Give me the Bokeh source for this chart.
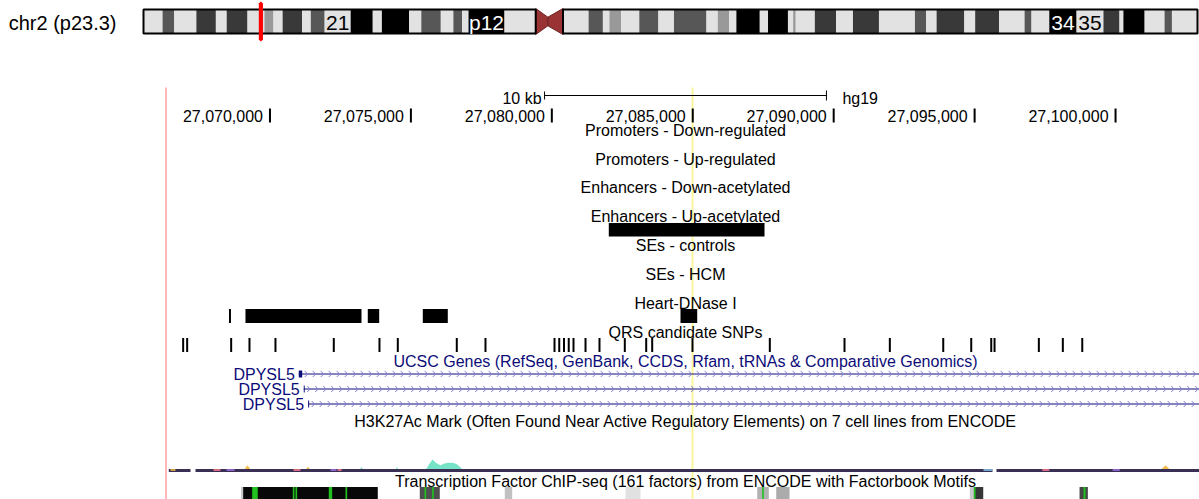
import numpy as np
from bokeh.plotting import figure
from bokeh.models import Range1d
from bokeh.core.properties import value
from bokeh.embed import file_html
from bokeh.resources import INLINE

# ---------------- chromosome ideogram: hg19 chr2 cytobands (Mb) ----------------
chrom_label = "chr2 (p23.3)"
chrom_length_mb = 243.199373
band_names = ["p25.3", "p25.2", "p25.1", "p24.3", "p24.2", "p24.1", "p23.3", "p23.2", "p23.1",
              "p22.3", "p22.2", "p22.1", "p21", "p16.3", "p16.2", "p16.1", "p15", "p14", "p13.3",
              "p13.2", "p13.1", "p12", "p11.2", "p11.1", "q11.1", "q11.2", "q12.1", "q12.2",
              "q12.3", "q13", "q14.1", "q14.2", "q14.3", "q21.1", "q21.2", "q21.3", "q22.1",
              "q22.2", "q22.3", "q23.1", "q23.2", "q23.3", "q24.1", "q24.2", "q24.3", "q31.1",
              "q31.2", "q31.3", "q32.1", "q32.2", "q32.3", "q33.1", "q33.2", "q33.3", "q34",
              "q35", "q36.1", "q36.2", "q36.3", "q37.1", "q37.2", "q37.3"]
band_starts = [0.0, 4.4, 7.1, 12.2, 16.7, 19.2, 24.0, 27.9, 30.0, 32.1, 36.6, 38.6, 41.8, 47.8,
               52.9, 55.0, 61.3, 64.1, 68.6, 71.5, 73.5, 75.0, 83.3, 90.5, 93.3, 96.8, 102.7,
               106.0, 107.5, 110.2, 114.4, 118.8, 122.4, 129.9, 132.5, 135.1, 136.8, 142.2,
               144.1, 148.7, 149.9, 150.5, 154.9, 159.8, 163.7, 169.7, 178.0, 180.6, 183.0,
               189.4, 191.9, 197.4, 203.3, 204.9, 209.0, 215.3, 221.5, 225.2, 226.1, 231.0,
               235.6, 237.3]
band_ends = band_starts[1:] + [chrom_length_mb]
band_stains = ["gneg", "gpos50", "gneg", "gpos75", "gneg", "gpos75", "gneg", "gpos25", "gneg",
               "gpos75", "gneg", "gpos50", "gneg", "gpos100", "gneg", "gpos100", "gneg", "gpos50",
               "gneg", "gpos50", "gneg", "gpos100", "gneg", "acen", "acen", "gneg", "gpos50",
               "gneg", "gpos25", "gneg", "gpos50", "gneg", "gpos50", "gneg", "gpos25", "gneg",
               "gpos100", "gneg", "gpos100", "gneg", "gpos25", "gneg", "gpos75", "gneg", "gpos75",
               "gneg", "gpos50", "gneg", "gpos75", "gneg", "gpos75", "gneg", "gpos50", "gneg",
               "gpos100", "gneg", "gpos75", "gneg", "gpos100", "gneg", "gpos50", "gneg"]
band_short_labels = {"p21": "21", "p12": "p12", "q34": "34", "q35": "35"}

# ---------------- browser window ----------------
assembly = "hg19"
view_start = 27066400
view_end = 27103085
ruler_ticks = [27070000, 27075000, 27080000, 27085000, 27090000, 27095000, 27100000]
scale_bar_bp = 10000
scale_bar_label = "10 kb"
highlight_start = 27084956
highlight_end = 27085026

track_titles = ["Promoters - Down-regulated", "Promoters - Up-regulated",
                "Enhancers - Down-acetylated", "Enhancers - Up-acetylated",
                "SEs - controls", "SEs - HCM", "Heart-DNase I", "QRS candidate SNPs"]

enh_up_starts = [27082021]
enh_up_ends = [27087546]

dnase_starts = [27068546, 27069131, 27073470, 27075422, 27084565]
dnase_ends = [27068616, 27073247, 27073875, 27076309, 27085158]

snp_positions = [27066920, 27067062, 27068623, 27069273, 27070195, 27072264, 27073885,
                 27074535, 27076628, 27077646, 27080095, 27080263, 27080432, 27080600,
                 27080769, 27081195, 27081691, 27082589, 27083348, 27083561, 27084991,
                 27087734, 27090384, 27091992, 27093887, 27094880, 27095590, 27095707,
                 27097279, 27098130, 27098819]

gene_track_title = "UCSC Genes (RefSeq, GenBank, CCDS, Rfam, tRNAs & Comparative Genomics)"
tx_names = ["DPYSL5", "DPYSL5", "DPYSL5"]
tx_starts = [27071022, 27071199, 27071355]
tx_ends = [27173730, 27173730, 27173730]
first_exon_ends = [27071143, 27071233, 27071390]

h3k_title = ("H3K27Ac Mark (Often Found Near Active Regulatory Elements) "
             "on 7 cell lines from ENCODE")
# low-level overlaid signal present across the window
h3k_cover_starts = [27066410, 27067358, 27095776]
h3k_cover_ends = [27067181, 27095634, 27103085]
# short stretches where one cell line dominates the overlay colour
h3k_speck_starts = [27066471, 27067997, 27068458, 27070835, 27072148, 27072396, 27095315,
                    27097400, 27099900]
h3k_speck_ends = [27066648, 27068245, 27068742, 27071083, 27072360, 27072538, 27095634,
                  27097650, 27100150]
h3k_speck_lines = ["H1-hESC", "GM12878", "NHEK", "GM12878", "NHEK", "GM12878", "HUVEC",
                   "GM12878", "NHEK"]
# HSMM signal (teal)
hsmm_pos = [27073105, 27073247, 27073388, 27074382, 27074506, 27074630,
            27075482, 27075624, 27075766, 27075908, 27076050, 27076192, 27076334,
            27076475, 27076617, 27076759, 27076901]
hsmm_val = [0, 12, 0, 0, 11, 0,
            0, 17, 31, 22, 17, 21, 23, 23, 20, 12, 0]
# H1-hESC signal (orange)
h1_pos = [27069024, 27069202, 27069379, 27071189, 27071348, 27071508,
          27101526, 27101774, 27102023]
h1_val = [0, 17, 0, 0, 13, 0, 0, 17, 0]
cell_line_colors = {"GM12878": "#ff7a8a", "H1-hESC": "#f3bb45", "HSMM": "#6fe2c3",
                    "HUVEC": "#86c8f0", "NHEK": "#a070e0"}

tf_title = "Transcription Factor ChIP-seq (161 factors) from ENCODE with Factorbook Motifs"
tf_starts = [27068971, 27069049, 27075315, 27078331, 27082614, 27087287, 27087961,
             27094830, 27094973, 27098723]
tf_ends = [27069049, 27073825, 27076025, 27078594, 27083146, 27087698, 27088433,
           27094973, 27095306, 27099017]
tf_scores = [215, 1000, 710, 250, 120, 310, 340, 215, 810, 750]
motif_starts = [27069368, 27070809, 27070905, 27072086, 27072679, 27075482, 27075755,
                27087464, 27094973, 27098864]
motif_ends = [27069567, 27070869, 27070965, 27072207, 27072739, 27075542, 27075812,
              27087521, 27095033, 27098936]

# ---------------- layout (pixels) ----------------
W, H = 1199, 499
TRACK_X0_PX = 168          # column where view_start is drawn
TRACK_W_PX = 1034          # width of the track area
IDEO_X0_PX, IDEO_X1_PX = 143, 1197

bpp = (view_end - view_start) / TRACK_W_PX
x_lo = view_start - TRACK_X0_PX * bpp
x_hi = x_lo + W * bpp
mb_per_px = chrom_length_mb / (IDEO_X1_PX - IDEO_X0_PX)
c_lo = -IDEO_X0_PX * mb_per_px
c_hi = c_lo + W * mb_per_px

# text rows are given as the vertical centre of the capitals
Y_IDEO_TOP, Y_IDEO_BOT = 9, 33
Y_TRACKS_TOP = 87
Y_SCALE = 95
Y_SCALE_TEXT = 98
Y_RULER_TEXT = 115
TITLE_ROWS = [129.5, 158.5, 187.0, 216.0, 245.0, 274.0, 303.0, 332.0]
FEAT_ROWS = [136, 165, 193.5, 222.5, 251.5, 280.5, 308.5, 337.5]
FEAT_H = 14
Y_GENE_TITLE = 360.5
GENE_ROWS = [373.5, 388.5, 403.5]
Y_H3K_TITLE = 420.5
Y_H3K_BASE = 471.5
H3K_PX_PER_UNIT = 0.4
Y_TF_TITLE = 480.5
Y_TF_TOP = 486.5

FONT = value("Liberation Sans")
NAVY = "#0c0c78"
mid_x = (view_start + view_end) / 2

p = figure(width=W, height=H, x_range=Range1d(x_lo, x_hi), y_range=Range1d(H, 0),
           output_backend="svg", toolbar_location=None, min_border=0,
           x_axis_location=None, y_axis_location=None,
           outline_line_color=None, background_fill_color="white",
           border_fill_color="white")
p.grid.visible = False
p.extra_x_ranges = {"chrom": Range1d(c_lo, c_hi)}

# ---------------- ideogram ----------------
stain_color = {"gneg": "#e2e2e2", "gpos25": "#999999", "gpos50": "#575757",
               "gpos75": "#393939", "gpos100": "#000000"}
norm = [i for i, s in enumerate(band_stains) if s != "acen"]
p.quad(left=[band_starts[i] for i in norm], right=[band_ends[i] for i in norm],
       top=Y_IDEO_TOP, bottom=Y_IDEO_BOT,
       fill_color=[stain_color[band_stains[i]] for i in norm], line_color=None,
       x_range_name="chrom")

acen = [i for i, s in enumerate(band_stains) if s == "acen"]
cen_lo = band_starts[acen[0]]
cen_mid = band_ends[acen[0]]
cen_hi = band_ends[acen[-1]]
waist = (Y_IDEO_BOT - Y_IDEO_TOP) * 0.18
ymid = (Y_IDEO_TOP + Y_IDEO_BOT) / 2
p.patches(xs=[[cen_lo, cen_mid, cen_mid, cen_lo], [cen_mid, cen_hi, cen_hi, cen_mid]],
          ys=[[Y_IDEO_TOP - 1, ymid - waist, ymid + waist, Y_IDEO_BOT + 1],
              [ymid - waist, Y_IDEO_TOP - 1, Y_IDEO_BOT + 1, ymid + waist]],
          fill_color="#9a3434", line_color="#6e2222", line_width=1, x_range_name="chrom")

# arm outlines
p.quad(left=[0, cen_hi], right=[cen_lo, chrom_length_mb], top=Y_IDEO_TOP, bottom=Y_IDEO_BOT,
       fill_color=None, line_color="black", line_width=2, x_range_name="chrom")

lab_idx = [i for i, n in enumerate(band_names) if n in band_short_labels]
p.text(x=[(band_starts[i] + band_ends[i]) / 2 for i in lab_idx], y=22,
       text=[band_short_labels[band_names[i]] for i in lab_idx],
       text_color=["white" if band_stains[i] in ("gpos100", "gpos75") else "black"
                   for i in lab_idx],
       text_font=FONT, text_font_size="21px", text_align="center",
       text_baseline="alphabetic", x_range_name="chrom")

p.text(x=[0], y=[22.5], text=[chrom_label], text_font=FONT, text_font_size="20px",
       text_align="right", text_baseline="alphabetic", x_offset=-27, x_range_name="chrom")

# current window marker
p.quad(left=[view_start / 1e6], right=[view_end / 1e6], top=3, bottom=39,
       fill_color="#ff0000", line_color="#ff0000", line_width=4, x_range_name="chrom")

# ---------------- track area guides ----------------
p.segment(x0=[view_start - 2.5 * bpp], x1=[view_start - 2.5 * bpp], y0=Y_TRACKS_TOP, y1=H,
          line_color="#ffb9b9", line_width=2)
p.quad(left=[highlight_start], right=[highlight_end], top=Y_TRACKS_TOP, bottom=H,
       fill_color="#fbf69c", line_color=None)

# ---------------- scale bar and ruler ----------------
sb0, sb1 = mid_x - scale_bar_bp / 2, mid_x + scale_bar_bp / 2
p.segment(x0=[sb0], x1=[sb1], y0=Y_SCALE, y1=Y_SCALE, line_color="black", line_width=1)
p.segment(x0=[sb0, sb1], x1=[sb0, sb1], y0=[Y_SCALE - 4, Y_SCALE - 5],
          y1=[Y_SCALE + 4, Y_SCALE + 5], line_color="black", line_width=1)
p.text(x=[sb0], y=[Y_SCALE_TEXT], text=[scale_bar_label], text_font=FONT,
       text_font_size="16px", text_align="right", text_baseline="alphabetic", x_offset=-3)
p.text(x=[sb1], y=[Y_SCALE_TEXT - 0.5], text=[assembly], text_font=FONT,
       text_font_size="16px", text_align="left", text_baseline="alphabetic", x_offset=16)

p.segment(x0=ruler_ticks, x1=ruler_ticks, y0=108, y1=122, line_color="black", line_width=2)
p.text(x=ruler_ticks, y=Y_RULER_TEXT, text=[f"{t:,}" for t in ruler_ticks], text_font=FONT,
       text_font_size="16px", text_align="right", text_baseline="alphabetic", x_offset=-7)

# ---------------- custom bed tracks ----------------
p.text(x=[mid_x] * len(track_titles), y=TITLE_ROWS, text=track_titles, text_font=FONT,
       text_font_size="16px", text_align="center", text_baseline="alphabetic",
       text_color="black")

p.quad(left=enh_up_starts, right=enh_up_ends, top=FEAT_ROWS[3], bottom=FEAT_ROWS[3] + 13.5,
       fill_color="black", line_color=None)
p.quad(left=dnase_starts, right=dnase_ends, top=FEAT_ROWS[6], bottom=FEAT_ROWS[6] + FEAT_H,
       fill_color="black", line_color=None)
p.segment(x0=snp_positions, x1=snp_positions, y0=FEAT_ROWS[7], y1=FEAT_ROWS[7] + FEAT_H,
          line_color="black", line_width=2)

# ---------------- genes ----------------
p.text(x=[mid_x], y=[Y_GENE_TITLE], text=[gene_track_title], text_font=FONT,
       text_font_size="16px", text_align="center", text_baseline="alphabetic",
       text_color=NAVY)

line_ends = [min(e, x_hi) for e in tx_ends]
p.segment(x0=tx_starts, x1=line_ends, y0=GENE_ROWS, y1=GENE_ROWS, line_color=NAVY,
          line_width=1)
chev_xs, chev_ys = [], []
step = 8 * bpp
for s, fe, e, yc in zip(tx_starts, first_exon_ends, line_ends, GENE_ROWS):
    for c in np.arange(fe + 4 * bpp, e, step):
        chev_xs.append([c - 1.5 * bpp, c + 1.5 * bpp, c - 1.5 * bpp])
        chev_ys.append([yc - 3, yc, yc + 3])
p.multi_line(xs=chev_xs, ys=chev_ys, line_color="#7f7fd2", line_width=1)
p.quad(left=tx_starts, right=first_exon_ends, top=[y - 3.5 for y in GENE_ROWS],
       bottom=[y + 3.5 for y in GENE_ROWS], fill_color=NAVY, line_color=None)
p.text(x=tx_starts, y=[y + 0.5 for y in GENE_ROWS], text=tx_names, text_font=FONT,
       text_font_size="16px", text_align="right", text_baseline="alphabetic",
       text_color=NAVY, x_offset=-4)

# ---------------- H3K27Ac overlay ----------------
p.text(x=[mid_x], y=[Y_H3K_TITLE], text=[h3k_title], text_font=FONT, text_font_size="16px",
       text_align="center", text_baseline="alphabetic", text_color="black")
for pos, val, name in ((h1_pos, h1_val, "H1-hESC"), (hsmm_pos, hsmm_val, "HSMM")):
    p.varea(x=pos, y1=[Y_H3K_BASE] * len(pos),
            y2=[Y_H3K_BASE - v * H3K_PX_PER_UNIT for v in val],
            fill_color=cell_line_colors[name], fill_alpha=0.95)
p.segment(x0=h3k_cover_starts, x1=h3k_cover_ends, y0=Y_H3K_BASE - 1.5, y1=Y_H3K_BASE - 1.5,
          line_color="#3a3056", line_width=3)
p.segment(x0=h3k_speck_starts, x1=h3k_speck_ends, y0=Y_H3K_BASE - 2, y1=Y_H3K_BASE - 2,
          line_color=[cell_line_colors[n] for n in h3k_speck_lines], line_width=2,
          line_alpha=0.8)

# ---------------- TF ChIP-seq clusters ----------------
p.text(x=[mid_x], y=[Y_TF_TITLE], text=[tf_title], text_font=FONT, text_font_size="16px",
       text_align="center", text_baseline="alphabetic", text_color="black")
def score_gray(sc):
    g = int(round(255 * (1 - sc / 1000 * 0.97)))
    g = max(0, min(235, g))
    return f"#{g:02x}{g:02x}{g:02x}"
p.quad(left=tf_starts, right=tf_ends, top=Y_TF_TOP, bottom=Y_TF_TOP + FEAT_H,
       fill_color=[score_gray(s) for s in tf_scores], line_color=None)
p.quad(left=motif_starts, right=motif_ends, top=Y_TF_TOP, bottom=Y_TF_TOP + FEAT_H,
       fill_color="#1fc01f", line_color=None)

open("out.html", "w").write(file_html(p, INLINE))
